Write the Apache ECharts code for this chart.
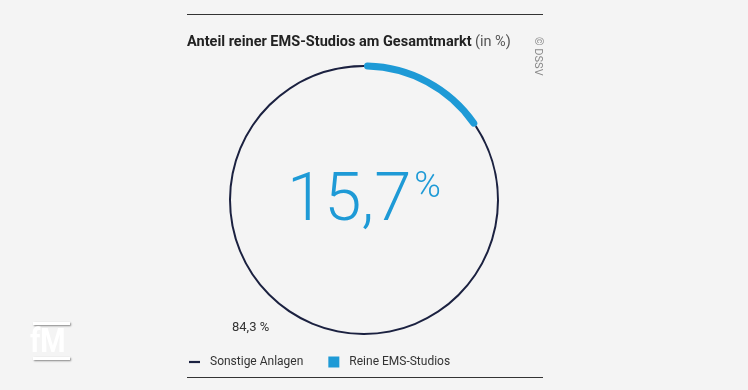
<!DOCTYPE html>
<html><head><meta charset="utf-8">
<script src="https://cdn.jsdelivr.net/npm/echarts@6/dist/echarts.min.js"></script>
<style>html,body{margin:0;padding:0;background:#f4f4f4}#c{width:748px;height:390px}</style>
</head><body><div id="c"></div>
<script>
const categories = ['Reine EMS-Studios', 'Sonstige Anlagen'];
const values = [15.7, 84.3];
const colors = ['#1e9ad6', '#1b2140'];
const titleMain = 'Anteil reiner EMS-Studios am Gesamtmarkt';
const titleUnit = '(in %)';

const fmt = v => v.toFixed(1).replace('.', ',');
const chart = echarts.init(document.getElementById('c'), null, {renderer: 'canvas'});
const center = [364, 200];
const shadow = {shadowColor: 'rgba(0,0,0,0.45)', shadowBlur: 2, shadowOffsetX: 1, shadowOffsetY: 1};
chart.setOption({
  backgroundColor: '#f4f4f4',
  animation: false,
  textStyle: {fontFamily: 'Roboto'},
  legend: {
    left: 184, top: 351,
    itemWidth: 11, itemHeight: 11, itemGap: 25,
    selectedMode: false,
    data: [
      {name: categories[1], icon: 'path://M0,0 H10 V2 H0 Z'},
      {name: categories[0], icon: 'rect'}
    ],
    textStyle: {fontFamily: 'Roboto', fontSize: 12, color: '#333', padding: [0, 0, 0, 5]}
  },
  series: [
    {
      type: 'pie', center: center, radius: [133, 135], startAngle: 90,
      silent: true, label: {show: false}, labelLine: {show: false},
      data: categories.map((n, i) => ({name: n, value: values[i], itemStyle: {color: colors[i]}}))
    },
    {
      type: 'pie', center: center, radius: [130.5, 137.5], startAngle: 90,
      silent: true, label: {show: false}, labelLine: {show: false},
      itemStyle: {borderRadius: 4},
      data: [
        {name: categories[0], value: values[0], itemStyle: {color: colors[0]}},
        {name: '_rest', value: values[1], itemStyle: {color: 'rgba(0,0,0,0)'}}
      ]
    }
  ],
  graphic: [
    {type: 'rect', shape: {x: 187, y: 14, width: 356, height: 1}, style: {fill: '#333'}},
    {type: 'rect', shape: {x: 187, y: 377, width: 356, height: 1}, style: {fill: '#333'}},
    {type: 'text', left: 187, top: 35, style: {
      text: '{b|' + titleMain + '} {n|' + titleUnit + '}',
      rich: {
        b: {fontFamily: 'Roboto', fontWeight: 'bold', fontSize: 14.5, fill: '#222'},
        n: {fontFamily: 'Roboto', fontSize: 14.5, fill: '#555'}
      }
    }},
    {type: 'text', x: 543, y: 37, rotation: -Math.PI / 2, style: {
      text: '© DSSV', fontFamily: 'Roboto', fontSize: 11, fill: '#888'
    }},
    {type: 'text', x: 287, y: 170, style: {
      text: '{v|' + fmt(values[0]) + '}{p|%}',
      rich: {
        v: {fontFamily: 'Roboto', fontWeight: 300, fontSize: 67, fill: colors[0], verticalAlign: 'top'},
        p: {fontFamily: 'Roboto', fontWeight: 300, fontSize: 36, fill: colors[0], verticalAlign: 'top', padding: [0, 0, 30, 3]}
      }
    }},
    {type: 'text', x: 232, y: 321, style: {
      text: fmt(values[1]) + ' %', fontFamily: 'Roboto', fontSize: 13, fill: '#333'
    }},
    {type: 'group', left: 30, top: 322, children: [
      {type: 'rect', shape: {x: 3, y: 0, width: 37, height: 3}, style: Object.assign({fill: '#fff'}, shadow)},
      {type: 'rect', shape: {x: 3, y: 35, width: 37, height: 3}, style: Object.assign({fill: '#fff'}, shadow)},
      {type: 'text', x: 0, y: 4, scaleX: 0.85, style: Object.assign({text: 'fM', fontFamily: 'Roboto', fontWeight: 'bold', fontSize: 34, fill: '#fff'}, shadow)}
    ]}
  ]
});
</script></body></html>
